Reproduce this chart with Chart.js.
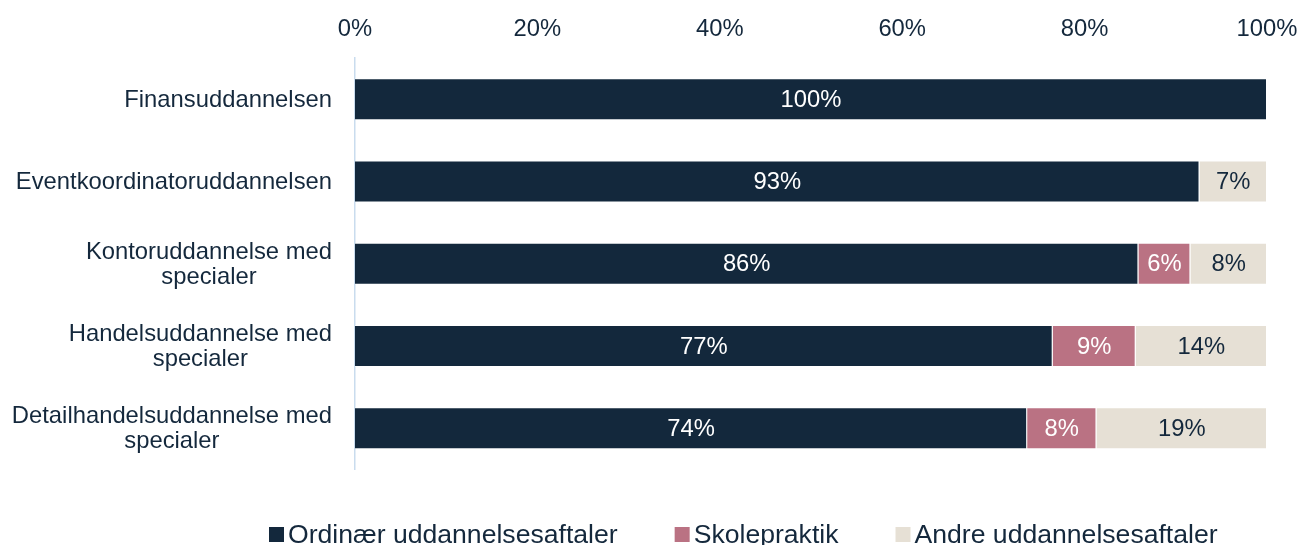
<!DOCTYPE html>
<html>
<head>
<meta charset="utf-8">
<script src="https://cdn.jsdelivr.net/npm/chart.js@4.4.1/dist/chart.umd.min.js"></script>
<style>
  html, body { margin: 0; background: #ffffff; }
  #wrap { width: 1300px; height: 545px; position: relative; }
</style>
</head>
<body>
<div id="wrap"><canvas id="graf"></canvas></div>
<script>
// ============ DATA ============
const kategorier = [
    ['Finansuddannelsen'],
    ['Eventkoordinatoruddannelsen'],
    ['Kontoruddannelse med', 'specialer'],
    ['Handelsuddannelse med', 'specialer'],
    ['Detailhandelsuddannelse med', 'specialer']
];
const ordinaer = [100, 92.6, 85.9, 76.5, 73.7];
const skolepraktik = [null, null, 5.7, 9.1, 7.6];
const andre = [null, 7.4, 8.4, 14.4, 18.7];
const serieNavne = ['Ordinær uddannelsesaftaler', 'Skolepraktik', 'Andre uddannelsesaftaler'];
const xTicks = [0, 20, 40, 60, 80, 100];

// ============ STIL ============
const FONT = '"Liberation Sans", Arial, sans-serif';
const tekstFarve = '#14283C';
const farver = ['#13283C', '#BA7283', '#E6E0D5'];
const etiketFarver = ['#ffffff', '#ffffff', '#14283C'];

// Værdier midt i hvert segment
const segmentEtiketter = {
    id: 'segmentEtiketter',
    afterDatasetsDraw(chart) {
        const ctx = chart.ctx;
        ctx.save();
        ctx.font = '23.8px ' + FONT;
        ctx.textAlign = 'center';
        ctx.textBaseline = 'middle';
        chart.data.datasets.forEach((ds, i) => {
            const meta = chart.getDatasetMeta(i);
            meta.data.forEach((bar, j) => {
                const v = ds.data[j];
                if (v == null) return;
                ctx.fillStyle = etiketFarver[i];
                ctx.fillText(Math.round(v) + '%', (bar.x + bar.base) / 2, bar.y + 1);
            });
        });
        ctx.restore();
    }
};

// Kategorinavne: højrestillet blok, centrerede linjer
const kategoriEtiketter = {
    id: 'kategoriEtiketter',
    afterDraw(chart) {
        const ctx = chart.ctx;
        const y = chart.scales.y;
        ctx.save();
        ctx.font = '23.8px ' + FONT;
        ctx.fillStyle = tekstFarve;
        ctx.textAlign = 'center';
        ctx.textBaseline = 'middle';
        chart.data.labels.forEach((linjer, i) => {
            const w = Math.max(...linjer.map(l => ctx.measureText(l).width));
            const cx = chart.chartArea.left - 23 - w / 2;
            const cy = y.getPixelForTick(i);
            linjer.forEach((l, k) => {
                ctx.fillText(l, cx, cy + 1 + (k - (linjer.length - 1) / 2) * 25);
            });
        });
        ctx.restore();
    }
};

// Forklaring nederst
const forklaring = {
    id: 'forklaring',
    afterDraw(chart) {
        const ctx = chart.ctx;
        ctx.save();
        ctx.font = '26.6px ' + FONT;
        ctx.textBaseline = 'alphabetic';
        ctx.textAlign = 'left';
        let x = 269;
        chart.data.datasets.forEach((ds, i) => {
            ctx.fillStyle = farver[i];
            ctx.fillRect(x, 527, 15, 15);
            ctx.fillStyle = tekstFarve;
            ctx.fillText(ds.label, x + 19, 543);
            x += 19 + ctx.measureText(ds.label).width + 57;
        });
        ctx.restore();
    }
};

const serier = [ordinaer, skolepraktik, andre];

new Chart(document.getElementById('graf'), {
    type: 'bar',
    data: {
        labels: kategorier,
        datasets: serier.map((d, i) => ({
            label: serieNavne[i],
            data: d,
            backgroundColor: farver[i],
            borderColor: 'rgba(255,255,255,0.5)',
            borderWidth: 1,
            barPercentage: 0.51,
            categoryPercentage: 1
        }))
    },
    options: {
        indexAxis: 'y',
        responsive: true,
        maintainAspectRatio: false,
        animation: false,
        layout: { padding: { left: 0, right: 33, top: 0, bottom: 75.5 } },
        plugins: {
            legend: { display: false },
            tooltip: { enabled: false }
        },
        scales: {
            x: {
                position: 'top',
                stacked: true,
                min: 0,
                max: 100,
                grid: { display: false, drawTicks: false },
                border: { display: false },
                ticks: {
                    padding: 14,
                    color: tekstFarve,
                    font: { family: FONT, size: 23.8 },
                    callback: v => v + '%'
                },
                afterBuildTicks: s => { s.ticks = xTicks.map(v => ({ value: v })); },
                afterFit: s => {
                    s.height = 58;
                    s.paddingLeft = 0;
                    s.paddingRight = 0;
                }
            },
            y: {
                stacked: true,
                grid: { display: false, drawTicks: false },
                border: { display: true, color: '#C9DCEE', width: 1.5 },
                ticks: { display: false },
                afterFit: s => { s.width = 355; }
            }
        }
    },
    plugins: [segmentEtiketter, kategoriEtiketter, forklaring]
});
</script>
</body>
</html>
